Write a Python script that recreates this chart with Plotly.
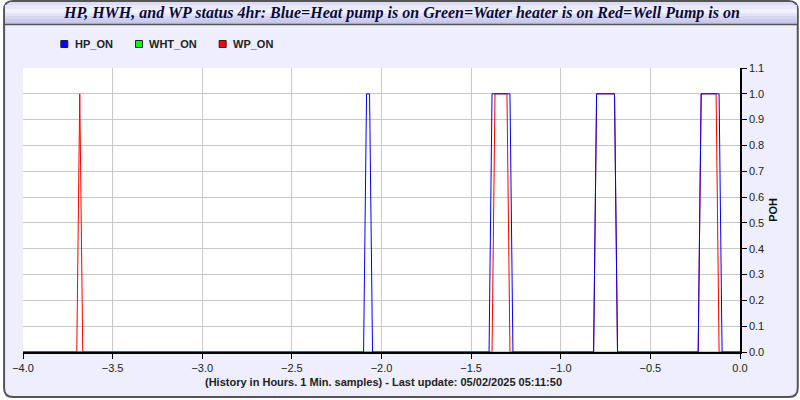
import plotly.graph_objects as go

# ---- data (minutes before last update, and on/off state) ----
HP_MIN = [240, 126, 125, 124, 123, 84, 83, 77, 76, 49, 48, 42, 41, 14, 13, 7, 6, 0]
HP_VAL = [0, 0, 1, 1, 0, 0, 1, 1, 0, 0, 1, 1, 0, 0, 1, 1, 0, 0]
WHT_MIN = [240, 0]
WHT_VAL = [0, 0]
WP_MIN = [240, 222, 221, 220, 83, 82, 78, 77, 49, 48, 42, 41, 14, 13, 8, 7, 0]
WP_VAL = [0, 0, 1, 0, 0, 1, 1, 0, 0, 1, 1, 0, 0, 1, 1, 0, 0]

SERIES_NAMES = ["HP_ON", "WHT_ON", "WP_ON"]
SERIES_COLORS = ["#0000FF", "#00FF00", "#FF0000"]
TITLE = "HP, HWH, and WP status 4hr: Blue=Heat pump is on Green=Water heater is on Red=Well Pump is on"
CAPTION = "(History in Hours. 1 Min. samples) - Last update: 05/02/2025 05:11:50"
Y_TITLE = "POH"

W, H = 800, 400
L, R, T, B = 20, 740, 68, 352


def px(x):
    return (x - L) / (R - L)


def py(y):
    return (B - y) / (B - T)


def hours(mins):
    return [-m / 60 for m in mins]


def rounded_path(x0, y0, x1, y1, r, top_only=False):
    rb = 0 if top_only else r
    p = f"M {px(x0)},{py(y0 + r)} Q {px(x0)},{py(y0)} {px(x0 + r)},{py(y0)} "
    p += f"L {px(x1 - r)},{py(y0)} Q {px(x1)},{py(y0)} {px(x1)},{py(y0 + r)} "
    if rb:
        p += f"L {px(x1)},{py(y1 - rb)} Q {px(x1)},{py(y1)} {px(x1 - rb)},{py(y1)} "
        p += f"L {px(x0 + rb)},{py(y1)} Q {px(x0)},{py(y1)} {px(x0)},{py(y1 - rb)} Z"
    else:
        p += f"L {px(x1)},{py(y1)} L {px(x0)},{py(y1)} Z"
    return p


fig = go.Figure()

traces = [
    (SERIES_NAMES[2], WP_MIN, WP_VAL, SERIES_COLORS[2]),
    (SERIES_NAMES[1], WHT_MIN, WHT_VAL, SERIES_COLORS[1]),
    (SERIES_NAMES[0], HP_MIN, HP_VAL, SERIES_COLORS[0]),
]
for name, mins, vals, col in traces:
    fig.add_trace(go.Scatter(x=hours(mins), y=vals, mode="lines", name=name,
                             line=dict(color=col, width=1), showlegend=False,
                             hoverinfo="x+y+name"))

shapes = []
# outer frame
shapes.append(dict(type="path", xref="paper", yref="paper", layer="below",
                   path=rounded_path(1, 1, 798, 397, 9),
                   fillcolor="#EEEEFF", line=dict(color="#555555", width=2)))
# title bar gradient bands
bands = [(2, 5, "#DCDCF4"), (5, 9, "#E8E8FA"), (9, 13, "#F2F2FD"),
         (13, 16, "#E4E4F8"), (16, 19, "#D6D6F2"), (19, 22, "#CCCCEE"), (22, 24, "#C4C4EA")]
for i, (y0, y1, c) in enumerate(bands):
    if i == 0:
        shapes.append(dict(type="path", xref="paper", yref="paper", layer="below",
                           path=rounded_path(2, 2, 797, y1, 8, top_only=True),
                           fillcolor=c, line=dict(width=0)))
    else:
        shapes.append(dict(type="rect", xref="paper", yref="paper", layer="below",
                           x0=px(2), x1=px(797), y0=py(y0), y1=py(y1),
                           fillcolor=c, line=dict(width=0)))
shapes.append(dict(type="line", xref="paper", yref="paper", layer="below",
                   x0=px(1), x1=px(798), y0=py(24.5), y1=py(24.5),
                   line=dict(color="#555555", width=1.5)))
# plot area
shapes.append(dict(type="rect", xref="paper", yref="paper", layer="below",
                   x0=0, x1=1, y0=0, y1=1, fillcolor="#FFFFFF", line=dict(width=0)))

annotations = []
annotations.append(dict(text=f"<b><i>{TITLE}</i></b>", x=px(400), y=py(12.5),
                        xref="paper", yref="paper", showarrow=False,
                        xanchor="center", yanchor="middle",
                        font=dict(family="Liberation Serif", size=16, color="#0A0A3A")))
annotations.append(dict(text=f"<b>{CAPTION}</b>", x=px(382), y=py(382),
                        xref="paper", yref="paper", showarrow=False,
                        xanchor="center", yanchor="middle",
                        font=dict(family="Liberation Sans", size=11, color="#222222")))
annotations.append(dict(text=f"<b>{Y_TITLE}</b>", x=px(773), y=py(210),
                        xref="paper", yref="paper", showarrow=False, textangle=-90,
                        xanchor="center", yanchor="middle",
                        font=dict(family="Liberation Sans", size=11, color="#111111")))

# legend (drawn)
leg_x = [58, 133, 217]
leg_cols = [SERIES_COLORS[0], SERIES_COLORS[1], SERIES_COLORS[2]]
for lx, name, col in zip(leg_x, SERIES_NAMES, leg_cols):
    shapes.append(dict(type="rect", xref="paper", yref="paper",
                       x0=px(lx), x1=px(lx + 7), y0=py(40.5), y1=py(47.5),
                       fillcolor=col, line=dict(color="#222222", width=1)))
    annotations.append(dict(text=f"<b>{name}</b>", x=px(lx + 12), y=py(44),
                            xref="paper", yref="paper", showarrow=False,
                            xanchor="left", yanchor="middle",
                            font=dict(family="Liberation Sans", size=11, color="#222222")))

fig.update_layout(
    width=W, height=H,
    margin=dict(l=L, r=W - R, t=T, b=H - B, pad=0),
    paper_bgcolor="#FFFFFF", plot_bgcolor="rgba(0,0,0,0)",
    shapes=shapes, annotations=annotations, showlegend=False,
    font=dict(family="Liberation Sans", size=11, color="#222222"),
)
fig.update_xaxes(range=[-4, 0], dtick=0.5, tick0=0, tickformat=".1f",
                 showgrid=True, gridcolor="#C8C8C8", gridwidth=1,
                 showline=True, linecolor="#000000", linewidth=1.5,
                 ticks="outside", ticklen=5, tickcolor="#000000",
                 zeroline=False, fixedrange=True,
                 tickfont=dict(family="Liberation Sans", size=11, color="#222222"))
fig.update_yaxes(range=[0, 1.1], dtick=0.1, tick0=0, tickformat=".1f", side="right",
                 showgrid=True, gridcolor="#C8C8C8", gridwidth=1,
                 showline=True, linecolor="#000000", linewidth=1.5,
                 ticks="outside", ticklen=5, tickcolor="#000000",
                 zeroline=False, fixedrange=True,
                 tickfont=dict(family="Liberation Sans", size=11, color="#222222"))

fig.write_html("out.html", config={"displayModeBar": False},
               post_script="document.body.style.margin='0';document.body.style.overflow='hidden';")
